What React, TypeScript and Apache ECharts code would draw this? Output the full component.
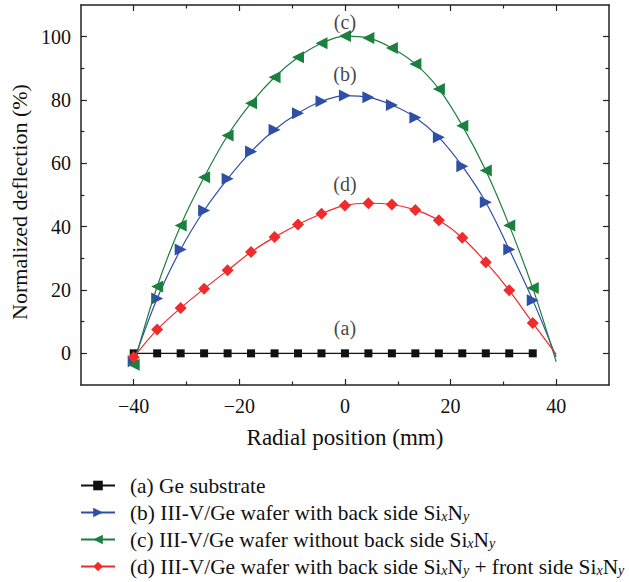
import React, { useEffect, useRef } from "react";
import * as echarts from "echarts";

const xPositions = [-40, -35.56, -31.11, -26.67, -22.22, -17.78, -13.33, -8.89, -4.44, 0, 4.44, 8.89, 13.33, 17.78, 22.22, 26.67, 31.11, 35.56, 40];
const seriesA = [0, 0, 0, 0, 0, 0, 0, 0, 0, 0, 0, 0, 0, 0, 0, 0, 0, 0];
const seriesB = [-2.5, 17.3, 32.8, 45.1, 55.1, 63.7, 70.6, 75.8, 79.6, 81.4, 80.9, 78.4, 74.5, 68.2, 59.1, 47.7, 32.8, 16.8, -1.2];
const seriesC = [-3.6, 21.1, 40.4, 55.6, 68.8, 79.0, 87.2, 93.5, 97.9, 100.2, 99.6, 96.4, 91.4, 83.5, 71.9, 57.7, 40.4, 20.6, -2.7];
const seriesD = [-1.2, 7.5, 14.3, 20.4, 26.2, 32.0, 36.7, 40.7, 44.1, 46.7, 47.4, 47.0, 45.3, 42.0, 36.5, 28.8, 19.9, 9.6, -0.3];

const names = [
  "(a) Ge substrate",
  "(b) III-V/Ge wafer with back side SixNy",
  "(c) III-V/Ge wafer without back side SixNy",
  "(d) III-V/Ge wafer with back side SixNy + front side SixNy",
];
const colors = ["#111111", "#2f4ea6", "#1b7f3e", "#ef2b2b"];
const xMajor = [-40, -20, 0, 20, 40];
const xMinor = [-30, -10, 10, 30];
const yMajor = [0, 20, 40, 60, 80, 100];
const yMinor = [10, 30, 50, 70, 90];
const tags = ["(a)", "(b)", "(c)", "(d)"];
const tagX = [0, 0, 0, 0];
const tagY = [7.9, 88.3, 104.5, 53.6];

const FONT = "Liberation Serif";

function pairs(ys: number[], lastNoSymbol: boolean) {
  return ys.map((y, i) => {
    const item: any = { value: [xPositions[i], y] };
    if (lastNoSymbol && i === ys.length - 1) item.symbol = "none";
    return item;
  });
}

export default function App() {
  const ref = useRef<HTMLDivElement>(null);
  useEffect(() => {
    if (!ref.current) return;
    document.body.style.margin = "0";
    const chart = echarts.init(ref.current, null, { renderer: "svg" });
    const axisLine = { show: true, onZero: false, lineStyle: { color: "#222", width: 1.5 } };
    const noLine = { show: false, onZero: false };
    const mkX = (pos: "bottom" | "top", major: boolean, showLine: boolean, labels: boolean) => ({
      type: "value",
      position: pos,
      min: -50,
      max: 50,
      interval: 10,
      axisLine: showLine ? axisLine : noLine,
      splitLine: { show: false },
      axisTick: {
        show: true,
        inside: true,
        length: major ? 6 : 3.5,
        customValues: major ? xMajor : xMinor,
        lineStyle: { color: "#222", width: 1.2 },
      },
      axisLabel: labels
        ? {
            show: true,
            customValues: xMajor,
            margin: 11,
            fontFamily: FONT,
            fontSize: 20,
            color: "#111",
            formatter: (v: number) => (v < 0 ? "\u2212" + Math.abs(v) : String(v)),
          }
        : { show: false },
      ...(labels
        ? {
            name: "Radial position (mm)",
            nameLocation: "middle",
            nameGap: 41,
            nameTextStyle: { fontFamily: FONT, fontSize: 23, color: "#111" },
          }
        : {}),
    });
    const mkY = (pos: "left" | "right", major: boolean, showLine: boolean, labels: boolean) => ({
      type: "value",
      position: pos,
      min: -10,
      max: 110,
      interval: 10,
      axisLine: showLine ? axisLine : noLine,
      splitLine: { show: false },
      axisTick: {
        show: true,
        inside: true,
        length: major ? 6 : 3.5,
        customValues: major ? yMajor : yMinor,
        lineStyle: { color: "#222", width: 1.2 },
      },
      axisLabel: labels
        ? {
            show: true,
            customValues: yMajor,
            margin: 10,
            fontFamily: FONT,
            fontSize: 20,
            color: "#111",
          }
        : { show: false },
      ...(labels
        ? {
            name: "Normalized deflection (%)",
            nameLocation: "middle",
            nameGap: 49,
            nameTextStyle: { fontFamily: FONT, fontSize: 22, color: "#111", padding: [0, 14, 0, 0] },
          }
        : {}),
    });

    const symbols = ["rect", "triangle", "triangle", "diamond"];
    const rot = [0, -90, 90, 0];
    const sizes = [8, 12, 12, 12];
    const datas = [
      seriesA.map((y, i) => [xPositions[i], y]),
      pairs(seriesB, true),
      pairs(seriesC, true),
      pairs(seriesD, true),
    ];

    const series: any[] = names.map((n, i) => ({
      type: "line",
      name: n,
      data: datas[i],
      xAxisIndex: 0,
      yAxisIndex: 0,
      smooth: i === 0 ? false : 0.35,
      symbol: symbols[i],
      symbolRotate: rot[i],
      symbolSize: sizes[i],
      showAllSymbol: true,
      lineStyle: { color: colors[i], width: 1.2 },
      itemStyle: { color: colors[i] },
      z: 2 + i,
    }));

    series.push({
      type: "scatter",
      name: "tags",
      silent: true,
      symbol: "circle",
      symbolSize: 1,
      itemStyle: { color: "rgba(0,0,0,0)" },
      data: tags.map((t, i) => ({ value: [tagX[i], tagY[i]], name: t })),
      label: {
        show: true,
        position: "inside",
        formatter: (p: any) => p.name,
        fontFamily: FONT,
        fontSize: 20,
        color: "#111",
      },
      z: 10,
    });

    const fmtLegend = (name: string) => name.replace(/SixNy/g, "Si{s|x}N{s|y}");

    chart.setOption({
      animation: false,
      backgroundColor: "#ffffff",
      grid: { left: 80, right: 20, top: 5, bottom: 197, containLabel: false },
      xAxis: [
        mkX("bottom", true, true, true),
        mkX("bottom", false, false, false),
        mkX("top", true, true, false),
        mkX("top", false, false, false),
      ],
      yAxis: [
        mkY("left", true, true, true),
        mkY("left", false, false, false),
        mkY("right", true, true, false),
        mkY("right", false, false, false),
      ],
      legend: {
        orient: "vertical",
        left: 80,
        top: 475,
        height: 130,
        padding: 0,
        itemWidth: 34,
        itemHeight: 12,
        itemGap: 6,
        data: names,
        formatter: fmtLegend,
        textStyle: {
          fontFamily: FONT,
          fontSize: 21.4,
          color: "#111",
          lineHeight: 21,
          padding: [0, 0, 0, 10],
          rich: {
            s: {
              fontFamily: FONT,
              fontSize: 14,
              fontStyle: "italic",
              lineHeight: 21,
              padding: [7, 0, 0, 0],
              verticalAlign: "middle",
              color: "#111",
            },
          },
        },
      },
      series,
    });
    return () => chart.dispose();
  }, []);
  return <div ref={ref} style={{ width: 629, height: 582 }} />;
}
